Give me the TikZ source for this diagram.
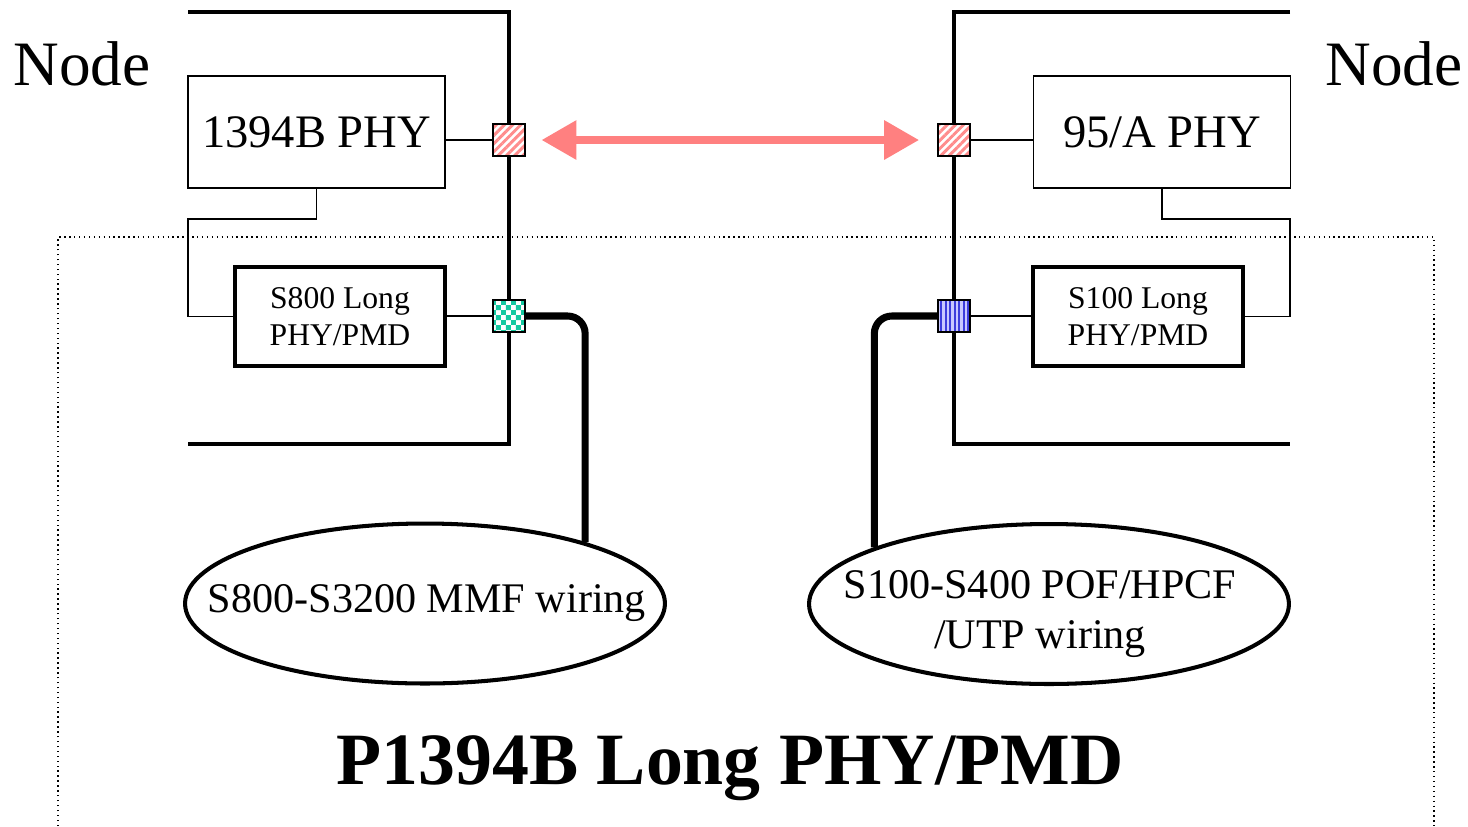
\documentclass[tikz,border=0pt]{standalone}
\usepackage{fontspec}
\setmainfont{Liberation Serif}
\usetikzlibrary{positioning,shapes.geometric,patterns.meta,arrows.meta}
\definecolor{linkred}{RGB}{255,128,128}
\definecolor{stripered}{RGB}{255,140,140}
\definecolor{checkgreen}{RGB}{20,200,160}
\definecolor{stripeblue}{RGB}{60,60,220}
\definecolor{paleblue}{RGB}{200,200,255}
\tikzdeclarepattern{
  name=finecheck, type=uncolored,
  bottom left={(0pt,0pt)}, top right={(5.6pt,5.6pt)}, tile size={(5.6pt,5.6pt)},
  code={\pgfpathrectangle{\pgfpointorigin}{\pgfqpoint{2.8pt}{2.8pt}}
        \pgfpathrectangle{\pgfqpoint{2.8pt}{2.8pt}}{\pgfqpoint{2.8pt}{2.8pt}}
        \pgfusepath{fill}}
}
\tikzset{
  frame/.style={line width=2.3pt},
  phybox/.style={draw, line width=0.8pt, minimum width=5.14cm, minimum height=2.24cm, font=\fontsize{26.5}{30}\selectfont},
  longbox/.style={draw, line width=2.3pt, minimum width=4.2cm, minimum height=1.98cm, align=center, font=\fontsize{18}{21}\selectfont},
  port/.style={draw, line width=1pt, minimum size=0.64cm, inner sep=0pt, preaction={fill=#1}},
  port/.default=white,
  wiring/.style={ellipse, draw, line width=2.3pt, minimum width=9.6cm, minimum height=3.2cm, inner sep=0pt},
  wiringtext/.style={align=center, font=\fontsize{24}{28.5}\selectfont},
  cable/.style={line width=4pt, rounded corners=0.35cm},
  thinline/.style={line width=0.8pt}
}
\begin{document}
\begin{tikzpicture}[x=0.02cm, y=-0.02cm]
  \useasboundingbox (0,0) rectangle (1468,826);
  \draw[dotted, line width=0.8pt] (58,826) |- (1434,237) -- (1434,826);
  \draw[frame] (188,12) -| (509,444) -- (188,444);
  \draw[frame] (1290,12) -| (954,444) -- (1290,444);
  \node[font=\fontsize{36}{40}\selectfont] (nodeL) at (82,64) {Node};
  \node[font=\fontsize{36}{40}\selectfont] (nodeR) at (1394,64) {Node};
  \node[phybox] (phyL) at (316.5,132) {1394B PHY};
  \node[phybox] (phyR) at (1162,132) {95/A PHY};
  \node[longbox] (longL) at (340,316.5) {S800 Long\\PHY/PMD};
  \node[longbox] (longR) at (1138,316.5) {S100 Long\\PHY/PMD};
  \node[port, pattern={Lines[angle=45,distance=3.3pt,line width=1.7pt]}, pattern color=stripered] (portL) at (509,140) {};
  \node[port, pattern={Lines[angle=45,distance=3.3pt,line width=1.7pt]}, pattern color=stripered] (portR) at (954,140) {};
  \node[port, pattern=finecheck, pattern color=checkgreen] (portG) at (509,316) {};
  \node[port=paleblue, pattern={Lines[angle=90,distance=2.6pt,line width=1.2pt]}, pattern color=stripeblue] (portB) at (954,316) {};
  \node[wiring] (ellL) at (425,603.5) {};
  \node[wiringtext] (ellLtext) at (427,603) {S800-S3200 MMF wiring};
  \node[wiring] (ellR) at (1049,604) {};
  \node[wiringtext] (ellRtext) at (1040,614) {S100-S400 POF/HPCF\\/UTP wiring};
  \node[font=\bfseries\fontsize{42}{48}\selectfont] (title) at (730,768) {P1394B Long PHY/PMD};
  \coordinate (bendL) at (188,219);
  \coordinate (bendR) at (1290,219);
  \draw[thinline] (phyL.east |- portL) -- (portL);
  \draw[thinline] (portR) -- (phyR.west |- portR);
  \draw[thinline] (phyL.south) |- (bendL) |- (longL.west);
  \draw[thinline] (phyR.south) |- (bendR) |- (longR.east);
  \draw[thinline] (longL.east |- portG) -- (portG);
  \draw[thinline] (portB) -- (longR.west |- portB);
  \draw[cable] (portG.east) -| (ellL.21);
  \draw[cable] (portB.west) -| (ellR.162);
  \draw[linkred, line width=4.5pt, {Triangle[length=0.7cm,width=0.75cm]}-{Triangle[length=0.7cm,width=0.75cm]}, shorten <=0.3cm, shorten >=0.36cm] (portL) -- (portR);
\end{tikzpicture}
\end{document}
